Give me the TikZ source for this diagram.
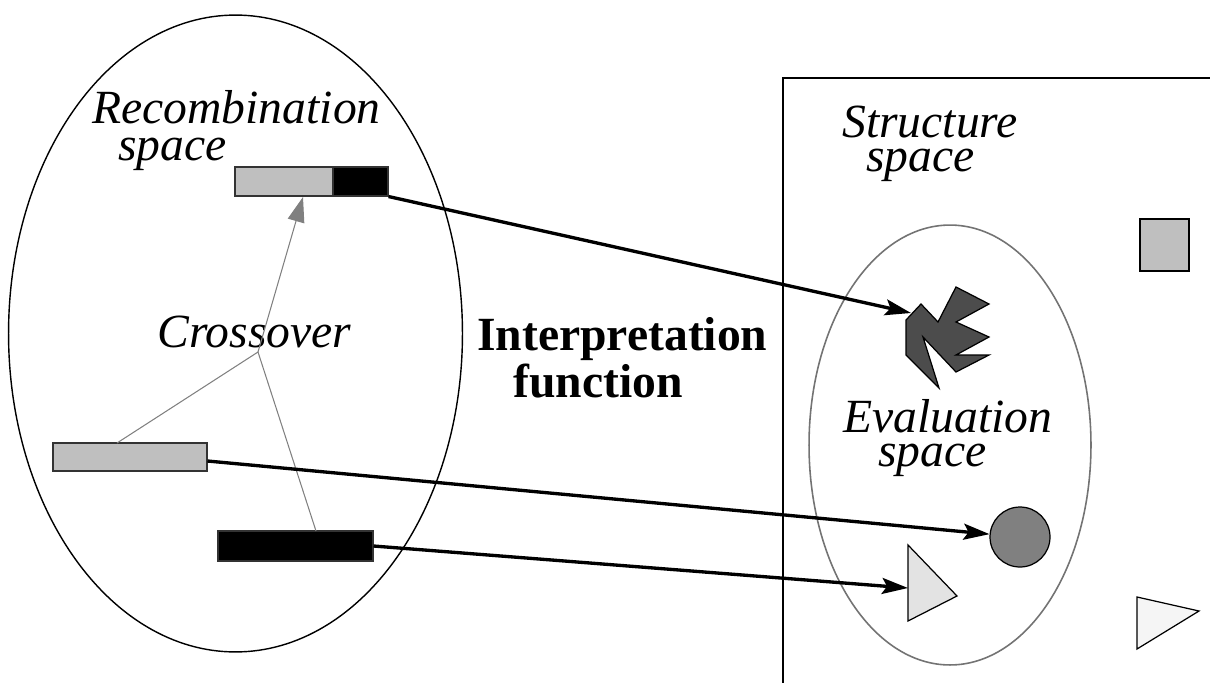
\documentclass[tikz,border=0pt]{standalone}
\usepackage{fontspec}
\setmainfont{Liberation Serif}[ItalicFont={Liberation Serif Italic},BoldFont={Liberation Serif Bold}]
\usetikzlibrary{arrows.meta,calc}
\begin{document}
\begin{tikzpicture}[x=0.02cm,y=-0.02cm,
  lbl/.style={anchor=base west,inner sep=0pt,align=left,font=\fontsize{27.1}{18.8}\selectfont\itshape},
  reclbl/.style={lbl,font=\fontsize{27.1}{21}\selectfont\itshape},
  blbl/.style={anchor=base west,inner sep=0pt,align=left,font=\fontsize{27.1}{26.7}\selectfont\bfseries},
  bar/.style={draw=black!80,line width=0.6pt,inner sep=0pt,minimum height=0.58cm},
  thick arrow/.style={line width=1.9pt,-{Stealth[length=0.52cm,width=0.32cm,inset=0.1cm]}},
  xover/.style={draw=black!50,line width=0.6pt},
  shapeline/.style={draw=black,line width=0.7pt,line join=miter}]
\useasboundingbox (0,0) rectangle (1210,683);
% left ellipse (recombination space)
\draw[line width=0.8pt] (235.5,333.5) ellipse [x radius=4.54cm, y radius=6.37cm];
% structure space box
\draw[line width=0.6pt] (1210,78) -- (783,78) -- (783,683);
% evaluation space ellipse
\draw[black!55,line width=0.9pt] (950,445) ellipse [x radius=2.82cm, y radius=4.4cm];
% texts (anchor: baseline of the last line)
\node[reclbl] (rec) at (92,160) {Recombination\\\hspace*{0.52cm}space};
\node[lbl] (cro) at (157,347) {Crossover};
\node[lbl] (str) at (842,171) {Structure\\\hspace*{0.48cm}space};
\node[lbl] (eva) at (843,466) {Evaluation\\\hspace*{0.7cm}space};
\node[blbl] (int) at (477,397) {Interpretation\\\hspace*{0.72cm}function};
% bars
\node[bar,fill=black!25,minimum width=1.96cm] (tg) at (284,181.5) {};
\node[bar,fill=black,minimum width=1.1cm] (tb) at (360.5,181.5) {};
\node[bar,fill=black!25,minimum width=3.08cm,minimum height=0.56cm] (gb) at (130,457) {};
\node[bar,fill=black,minimum width=3.1cm,minimum height=0.6cm] (bb) at (295.5,546) {};
% crossover lines
\coordinate (j) at (258,352);
\draw[xover] (j) -- (117,443);
\draw[xover] (j) -- (316,531);
\draw[xover,-{Triangle[length=0.5cm,width=0.34cm]},black!50] (j) -- (303,197);
% structures
\draw[shapeline,fill=black!70] (906,320) -- (921,304) -- (938,322) -- (956,287) -- (989,304)
  -- (956,322) -- (989,337) -- (956,355) -- (989,355) -- (956,372) -- (923,337)
  -- (939,388) -- (906,355) -- cycle;
\coordinate (poly) at (911,313);
\node[circle,draw=black,line width=0.7pt,fill=black!50,minimum size=1.2cm,inner sep=0pt] (circ) at (1020,537) {};
\draw[shapeline,fill=black!11] (908,545) -- (957,596) -- (908,621) -- cycle;
\coordinate (tri) at (908,588);
\draw[shapeline,fill=black!25] (1140,219) rectangle (1189,271);
\draw[shapeline,fill=black!4] (1137,597) -- (1199,611) -- (1137,649) -- cycle;
% interpretation arrows
\draw[thick arrow] (tb.south east) -- (poly);
\draw[thick arrow] ([yshift=-0.08cm]gb.east) -- (circ);
\draw[thick arrow] (bb.east) -- (tri);
\end{tikzpicture}
\end{document}
